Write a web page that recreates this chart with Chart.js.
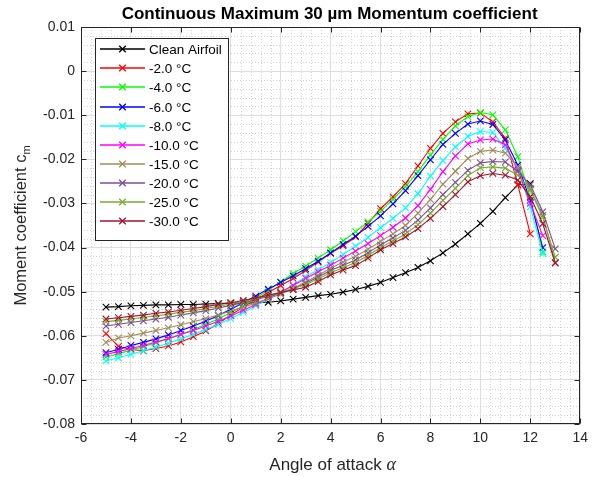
<!DOCTYPE html>
<html>
<head>
<meta charset="utf-8">
<script src="https://cdn.jsdelivr.net/npm/chart.js@4.4.1/dist/chart.umd.min.js"></script>
<style>
  html, body { margin: 0; padding: 0; background: #fff; }
  #wrap { width: 594px; height: 477px; }
</style>
</head>
<body>
<div id="wrap"><canvas id="cm" width="594" height="477"></canvas></div>
<script>
// angle of attack, 0.5 deg steps
const angles = [-5, -4.5, -4, -3.5, -3, -2.5, -2, -1.5, -1, -0.5, 0, 0.5, 1, 1.5, 2, 2.5, 3, 3.5, 4,
  4.5, 5, 5.5, 6, 6.5, 7, 7.5, 8, 8.5, 9, 9.5, 10, 10.5, 11, 11.5, 12, 12.5, 13];

const cleanAirfoil = [-0.0535, -0.0534, -0.0532, -0.0531, -0.0530, -0.0530, -0.0529, -0.0529, -0.0528, -0.0527, -0.0526,
  -0.0526, -0.0525, -0.0524, -0.0521, -0.0517, -0.0513, -0.0509, -0.0506, -0.0501, -0.0495, -0.0488, -0.0479,
  -0.0468, -0.0457, -0.0445, -0.0430, -0.0412, -0.0392, -0.0369, -0.0345, -0.0318, -0.0287, -0.0258, -0.0255];

const iced2 = [-0.0595, -0.0624, -0.0631, -0.0634, -0.0629, -0.0623, -0.0614, -0.0602, -0.0589, -0.0572, -0.0553,
  -0.0535, -0.0518, -0.0502, -0.0486, -0.0470, -0.0452, -0.0433, -0.0413, -0.0396, -0.0376, -0.0345, -0.0312,
  -0.0285, -0.0255, -0.0215, -0.0175, -0.0141, -0.0115, -0.0097, -0.0095, -0.0115, -0.0152, -0.0258, -0.0369];

const iced4 = [-0.0648, -0.0641, -0.0632, -0.0625, -0.0616, -0.0607, -0.0597, -0.0586, -0.0574, -0.0562, -0.0548,
  -0.0532, -0.0515, -0.0497, -0.0478, -0.0459, -0.0442, -0.0424, -0.0405, -0.0385, -0.0364, -0.0342, -0.0318,
  -0.0291, -0.0262, -0.0228, -0.0190, -0.0155, -0.0124, -0.0103, -0.0094, -0.0099, -0.0133, -0.0194, -0.0285, -0.0410];

const iced6 = [-0.0638, -0.0631, -0.0622, -0.0615, -0.0607, -0.0598, -0.0588, -0.0578, -0.0567, -0.0554, -0.0540,
  -0.0525, -0.0510, -0.0494, -0.0479, -0.0464, -0.0448, -0.0431, -0.0412, -0.0393, -0.0374, -0.0352, -0.0328,
  -0.0301, -0.0271, -0.0237, -0.0201, -0.0166, -0.0141, -0.0120, -0.0113, -0.0121, -0.0156, -0.0213, -0.0293, -0.0400];

const iced8 = [-0.0657, -0.0650, -0.0642, -0.0634, -0.0626, -0.0617, -0.0607, -0.0597, -0.0586, -0.0574, -0.0561,
  -0.0547, -0.0532, -0.0517, -0.0502, -0.0485, -0.0466, -0.0450, -0.0434, -0.0416, -0.0397, -0.0377, -0.0355,
  -0.0334, -0.0310, -0.0278, -0.0238, -0.0203, -0.0172, -0.0148, -0.0137, -0.0139, -0.0175, -0.0220, -0.0308, -0.0414];

const iced10 = [-0.0642, -0.0636, -0.0629, -0.0622, -0.0614, -0.0606, -0.0597, -0.0588, -0.0578, -0.0567, -0.0555,
  -0.0542, -0.0529, -0.0515, -0.0501, -0.0486, -0.0470, -0.0455, -0.0440, -0.0424, -0.0408, -0.0391, -0.0373,
  -0.0354, -0.0333, -0.0305, -0.0268, -0.0228, -0.0192, -0.0165, -0.0156, -0.0154, -0.0167, -0.0224, -0.0300, -0.0373];

const iced15 = [-0.0615, -0.0605, -0.0600, -0.0594, -0.0588, -0.0582, -0.0575, -0.0568, -0.0561, -0.0553, -0.0544,
  -0.0535, -0.0526, -0.0516, -0.0506, -0.0493, -0.0478, -0.0463, -0.0447, -0.0433, -0.0420, -0.0404, -0.0386,
  -0.0369, -0.0350, -0.0322, -0.0291, -0.0256, -0.0227, -0.0198, -0.0182, -0.0179, -0.0186, -0.0217, -0.0266, -0.0327, -0.0434];

const iced20 = [-0.0578, -0.0574, -0.0570, -0.0566, -0.0562, -0.0558, -0.0553, -0.0548, -0.0543, -0.0537, -0.0531,
  -0.0525, -0.0518, -0.0511, -0.0503, -0.0494, -0.0481, -0.0467, -0.0452, -0.0440, -0.0428, -0.0412, -0.0394,
  -0.0378, -0.0361, -0.0338, -0.0310, -0.0280, -0.0252, -0.0225, -0.0208, -0.0205, -0.0206, -0.0228, -0.0258, -0.0319, -0.0403];

const iced25 = [-0.0568, -0.0565, -0.0562, -0.0558, -0.0555, -0.0551, -0.0547, -0.0543, -0.0538, -0.0533, -0.0528,
  -0.0522, -0.0516, -0.0509, -0.0501, -0.0493, -0.0484, -0.0471, -0.0457, -0.0446, -0.0434, -0.0418, -0.0400,
  -0.0385, -0.0369, -0.0348, -0.0322, -0.0293, -0.0266, -0.0237, -0.0219, -0.0217, -0.0220, -0.0236, -0.0270, -0.0331, -0.0422];

const iced30 = [-0.0562, -0.0559, -0.0556, -0.0553, -0.0549, -0.0546, -0.0542, -0.0538, -0.0534, -0.0529, -0.0525,
  -0.0520, -0.0514, -0.0508, -0.0502, -0.0496, -0.0490, -0.0477, -0.0462, -0.0451, -0.0441, -0.0424, -0.0405,
  -0.0391, -0.0376, -0.0357, -0.0334, -0.0307, -0.0280, -0.0251, -0.0237, -0.0232, -0.0236, -0.0247, -0.0285, -0.0346, -0.0435];

const seriesLabels = ['Clean Airfoil', '-2.0 °C', '-4.0 °C', '-6.0 °C', '-8.0 °C', '-10.0 °C',
  '-15.0 °C', '-20.0 °C', '-25.0 °C', '-30.0 °C'];
const seriesValues = [cleanAirfoil, iced2, iced4, iced6, iced8, iced10, iced15, iced20, iced25, iced30];
const seriesColors = ['#000000', '#ff0000', '#00ff00', '#0000ff', '#00ffff', '#ff00ff',
  '#a08c5a', '#7e4c9a', '#77ac30', '#a2142f'];

const xTicks = [-6, -4, -2, 0, 2, 4, 6, 8, 10, 12, 14];
const yTicks = [0.01, 0, -0.01, -0.02, -0.03, -0.04, -0.05, -0.06, -0.07, -0.08];

const chartTitle = 'Continuous Maximum 30 µm Momentum coefficient';
const xTitle = 'Angle of attack ';
const yTitle = 'Moment coefficient c';

const FONT = "'Liberation Sans', Arial, sans-serif";
const AXIS_COLOR = '#262626';

const datasets = seriesValues.map((vals, i) => ({
  label: seriesLabels[i],
  data: vals.map((v, k) => ({ x: angles[k], y: v })),
  borderColor: seriesColors[i],
  backgroundColor: seriesColors[i],
  borderWidth: 1.1,
  pointStyle: 'crossRot',
  pointRadius: 4.6,
  pointBorderWidth: 1.1,
  pointBorderColor: seriesColors[i],
  tension: 0,
  fill: false,
  order: seriesValues.length - i
}));

// minor grid, box, inside ticks, legend, titles (matlab look)
const matlabAxes = {
  id: 'matlabAxes',
  beforeDatasetsDraw(chart) {
    const { ctx, chartArea: a, scales: { x, y } } = chart;
    ctx.save();
    ctx.strokeStyle = '#d2d2d2';
    ctx.lineWidth = 1;
    ctx.setLineDash([1, 2]);
    for (let i = 1; i < 50; i++) {
      if (i % 5 === 0) continue;
      const px = Math.round(x.getPixelForValue(-6 + i * 0.4)) + 0.5;
      ctx.beginPath(); ctx.moveTo(px, a.top); ctx.lineTo(px, a.bottom); ctx.stroke();
    }
    for (let i = 1; i < 45; i++) {
      if (i % 5 === 0) continue;
      const py = Math.round(y.getPixelForValue(-0.08 + i * 0.002)) + 0.5;
      ctx.beginPath(); ctx.moveTo(a.left, py); ctx.lineTo(a.right, py); ctx.stroke();
    }
    ctx.restore();
  },
  afterDatasetsDraw(chart) {
    const { ctx, chartArea: a, scales: { x, y } } = chart;
    ctx.save();
    // box
    ctx.strokeStyle = AXIS_COLOR;
    ctx.lineWidth = 1;
    ctx.setLineDash([]);
    const L = Math.round(a.left) + 0.5, R = Math.round(a.right) - 0.5;
    const T = Math.round(a.top) + 0.5, B = Math.round(a.bottom) - 0.5;
    ctx.strokeRect(L, T, R - L, B - T);
    // inside ticks
    ctx.beginPath();
    xTicks.forEach(v => {
      const px = Math.round(x.getPixelForValue(v)) + 0.5;
      ctx.moveTo(px, B); ctx.lineTo(px, B - 5);
      ctx.moveTo(px, T); ctx.lineTo(px, T + 5);
    });
    yTicks.forEach(v => {
      const py = Math.round(y.getPixelForValue(v)) + 0.5;
      ctx.moveTo(L, py); ctx.lineTo(L + 5, py);
      ctx.moveTo(R, py); ctx.lineTo(R - 5, py);
    });
    ctx.stroke();

    // legend
    const bx = 95.5, by = 38.5, bw = 133, bh = 202;
    ctx.fillStyle = '#ffffff';
    ctx.fillRect(bx, by, bw, bh);
    ctx.strokeStyle = '#262626';
    ctx.strokeRect(bx, by, bw, bh);
    ctx.font = '13.5px ' + FONT;
    ctx.textBaseline = 'middle';
    ctx.textAlign = 'left';
    chart.data.datasets.forEach((ds, i) => {
      const ry = Math.round(49.3 + i * 19.07);
      ctx.strokeStyle = ds.borderColor;
      ctx.lineWidth = 1.6;
      ctx.beginPath(); ctx.moveTo(100, ry); ctx.lineTo(145, ry); ctx.stroke();
      const mx = 122.5, r = 3.3;
      ctx.lineWidth = 1.3;
      ctx.beginPath();
      ctx.moveTo(mx - r, ry - r); ctx.lineTo(mx + r, ry + r);
      ctx.moveTo(mx - r, ry + r); ctx.lineTo(mx + r, ry - r);
      ctx.stroke();
      ctx.fillStyle = '#000000';
      ctx.fillText(ds.label, 149, ry + 1);
    });
    ctx.restore();
  },
  afterDraw(chart) {
    const { ctx, chartArea: a } = chart;
    ctx.save();
    ctx.fillStyle = '#000000';
    ctx.textBaseline = 'alphabetic';
    // title
    ctx.font = 'bold 17px ' + FONT;
    ctx.textAlign = 'center';
    ctx.fillText(chartTitle, (a.left + a.right) / 2 - 1, 19);
    // x label
    ctx.font = '17px ' + FONT;
    const w1 = ctx.measureText(xTitle).width;
    ctx.font = 'italic 18px "Liberation Serif", serif';
    const w2 = ctx.measureText('α').width;
    const cx = (a.left + a.right) / 2 + 2;
    let sx = cx - (w1 + w2) / 2;
    ctx.textAlign = 'left';
    ctx.fillStyle = AXIS_COLOR;
    ctx.font = '17px ' + FONT;
    ctx.fillText(xTitle, sx, 470);
    ctx.font = 'italic 18px "Liberation Serif", serif';
    ctx.fillText('α', sx + w1, 470);
    // y label
    ctx.translate(26, (a.top + a.bottom) / 2);
    ctx.rotate(-Math.PI / 2);
    ctx.font = '16.5px ' + FONT;
    const t1 = ctx.measureText(yTitle).width;
    ctx.font = '11px ' + FONT;
    const t2 = ctx.measureText('m').width;
    const s0 = -(t1 + t2) / 2;
    ctx.font = '16.5px ' + FONT;
    ctx.fillText(yTitle, s0, 0);
    ctx.font = '11px ' + FONT;
    ctx.fillText('m', s0 + t1, 4);
    ctx.restore();
  }
};

new Chart(document.getElementById('cm'), {
  type: 'line',
  data: { datasets },
  plugins: [matlabAxes],
  options: {
    responsive: false,
    animation: false,
    devicePixelRatio: 1,
    layout: { padding: { left: 0, right: 10, top: 27, bottom: 0 } },
    plugins: {
      legend: { display: false },
      tooltip: { enabled: false },
      title: { display: false }
    },
    scales: {
      x: {
        type: 'linear',
        min: -6,
        max: 14,
        afterBuildTicks: s => { s.ticks = xTicks.map(v => ({ value: v })); },
        afterFit: s => { s.height = 53; },
        grid: { color: '#dedede', lineWidth: 1, drawTicks: false },
        border: { display: false },
        ticks: {
          padding: 6,
          color: AXIS_COLOR,
          font: { family: FONT, size: 14 },
          maxRotation: 0,
          callback: v => String(v)
        }
      },
      y: {
        type: 'linear',
        min: -0.08,
        max: 0.01,
        afterBuildTicks: s => { s.ticks = yTicks.map(v => ({ value: v })); },
        afterFit: s => { s.width = 81; },
        grid: { color: '#dedede', lineWidth: 1, drawTicks: false },
        border: { display: false },
        ticks: {
          padding: 6,
          color: AXIS_COLOR,
          font: { family: FONT, size: 14 },
          callback: v => String(Number(v.toFixed(2)))
        }
      }
    }
  }
});
</script>
</body>
</html>
